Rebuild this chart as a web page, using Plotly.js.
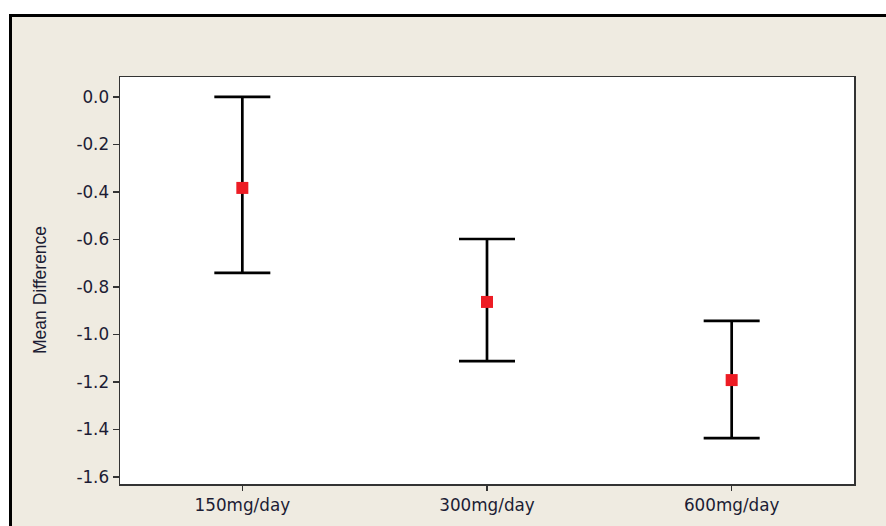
<!DOCTYPE html>
<html>
<head>
<meta charset="utf-8">
<script src="https://cdn.plot.ly/plotly-3.0.1.min.js"></script>
<style>
  html, body { margin: 0; padding: 0; background: #ffffff; width: 886px; height: 526px; overflow: hidden; }
  #frame { position: absolute; left: 9px; top: 14px; width: 880px; height: 520px;
           border-left: 3px solid #000; border-top: 3px solid #000; background: #EFEBE1; }
  #chart { position: absolute; left: 0; top: 0; width: 886px; height: 526px; }
</style>
</head>
<body>
<div id="frame"></div>
<div id="chart"></div>
<script>
const categories = ["150mg/day", "300mg/day", "600mg/day"];
const meanDiff = [-0.383, -0.863, -1.192];
const upperCI = [0.0, -0.598, -0.943];
const lowerCI = [-0.741, -1.112, -1.436];
const yTickVals = [0.0, -0.2, -0.4, -0.6, -0.8, -1.0, -1.2, -1.4, -1.6];
const yTickText = ["0.0", "-0.2", "-0.4", "-0.6", "-0.8", "-1.0", "-1.2", "-1.4", "-1.6"];
const yTitle = "Mean Difference";

const plus = upperCI.map((u, i) => u - meanDiff[i]);
const minus = lowerCI.map((l, i) => meanDiff[i] - l);

const trace = {
  type: "scatter",
  mode: "markers",
  x: categories,
  y: meanDiff,
  marker: { symbol: "square", size: 12, color: "#ED1C24" },
  error_y: {
    type: "data", symmetric: false, array: plus, arrayminus: minus,
    color: "#000000", thickness: 2.7, width: 28
  },
  hoverinfo: "x+y"
};

const axisFont = { family: "DejaVu Sans, Verdana, sans-serif", size: 16.8, color: "#1c1c34" };

const layout = {
  width: 886, height: 526,
  margin: { l: 120, r: 32, t: 77, b: 42 },
  paper_bgcolor: "rgba(0,0,0,0)",
  plot_bgcolor: "#ffffff",
  showlegend: false,
  xaxis: {
    type: "category",
    range: [-0.5, 2.5],
    showgrid: false, zeroline: false,
    showline: true, linecolor: "#333333", linewidth: 1.5, mirror: true,
    ticks: "outside", ticklen: 5, tickwidth: 1.5, tickcolor: "#333333",
    tickfont: axisFont
  },
  yaxis: {
    range: [-1.6295, 0.084],
    tickvals: yTickVals, ticktext: yTickText,
    showgrid: false, zeroline: false,
    showline: true, linecolor: "#333333", linewidth: 1.5, mirror: true,
    ticks: "outside", ticklen: 6, tickwidth: 1.5, tickcolor: "#333333",
    tickfont: axisFont
  },
  annotations: [{
    text: yTitle, textangle: -90, showarrow: false,
    xref: "paper", yref: "paper",
    x: (40 - 120) / 734, y: (484 - 290) / 407,
    xanchor: "center", yanchor: "middle",
    font: { family: "Liberation Sans Narrow, Arial Narrow, Liberation Sans, sans-serif", size: 17.5, color: "#1c1c34" }
  }]
};

Plotly.newPlot("chart", [trace], layout, { displayModeBar: false, staticPlot: true });
</script>
</body>
</html>
